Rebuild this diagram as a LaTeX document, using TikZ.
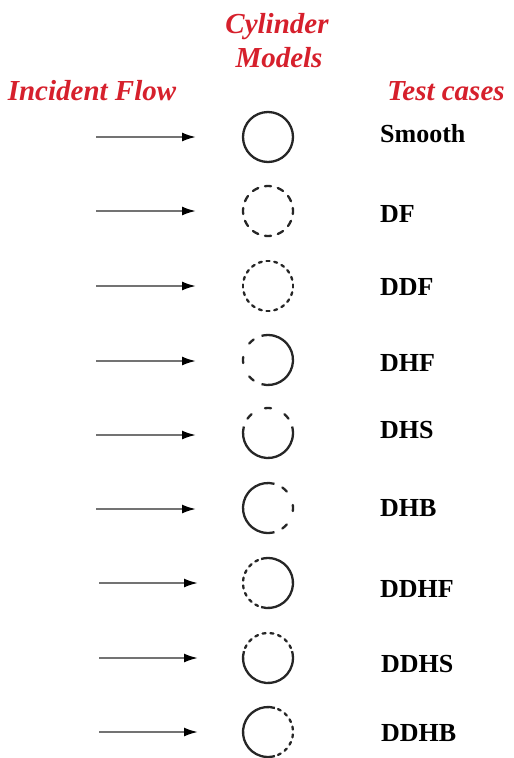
\documentclass[tikz,border=0pt]{standalone}
\usepackage{fontspec}
\setmainfont{Liberation Serif}
\usetikzlibrary{arrows.meta}
\definecolor{headred}{RGB}{214,32,44}
\newcommand\dashring[3]{\foreach \a in {#2}{\draw[rim, line cap=round] (#1.center) ++({\a-#3}:25) arc[start angle=\a-#3, delta angle=2*#3, radius=25];}}
\newcommand\solidarc[3]{\draw[rim] (#1.center) ++(#2:25) arc[start angle=#2, end angle=#3, radius=25];}
\begin{document}
\begin{tikzpicture}[x=1pt,y=1pt,
  head/.style={text=headred, font=\fontsize{29}{32}\selectfont\bfseries\itshape, inner sep=0, anchor=base},
  case/.style={font=\fontsize{26}{28}\selectfont\bfseries, anchor=base west, inner sep=0},
  cyl/.style={circle, minimum size=50pt, inner sep=0, outer sep=0},
  rim/.style={line width=2.3pt, draw=black!85},
  flow/.style={line width=2pt, draw=black!55, -{Latex[length=14pt,width=9pt,color=black]}}
]
\useasboundingbox (0,0) rectangle (514,-758);
% headings
\node[head] (hcyl) at (277,-33) {Cylinder};
\node[head] (hmod) at (279,-67) {Models};
\node[head] (hinc) at (92,-100) {Incident Flow};
\node[head] (htest) at (446,-100) {Test cases};
% cylinders
\node[cyl] (c1) at (268,-137) {};
\node[cyl] (c2) at (268,-211) {};
\node[cyl] (c3) at (268,-286) {};
\node[cyl] (c4) at (268,-360) {};
\node[cyl] (c5) at (268,-433) {};
\node[cyl] (c6) at (268,-508) {};
\node[cyl] (c7) at (268,-583) {};
\node[cyl] (c8) at (268,-658) {};
\node[cyl] (c9) at (268,-732) {};
\draw[rim] (c1.center) circle[radius=25];
\dashring{c2}{90,120,...,420}{7}
\dashring{c3}{90,108,...,432}{3.5}
\solidarc{c4}{-105}{105}\dashring{c4}{132,180,228}{7}
\solidarc{c5}{165}{375}\dashring{c5}{42,90,138}{7}
\solidarc{c6}{75}{285}\dashring{c6}{-48,0,48}{7}
\solidarc{c7}{-106}{106}\dashring{c7}{117,135,...,243}{3.5}
\solidarc{c8}{164}{376}\dashring{c8}{27,45,...,153}{3.5}
\solidarc{c9}{74}{286}\dashring{c9}{-63,-45,...,63}{3.5}
% labels
\node[case] (l1) at (380,-142) {Smooth};
\node[case] (l2) at (380,-222.6) {DF};
\node[case] (l3) at (380,-295) {DDF};
\node[case] (l4) at (380,-371) {DHF};
\node[case] (l5) at (380,-438.6) {DHS};
\node[case] (l6) at (380,-516.6) {DHB};
\node[case] (l7) at (380,-597.6) {DDHF};
\node[case] (l8) at (381,-672.6) {DDHS};
\node[case] (l9) at (381,-741) {DDHB};
% arrows
\coordinate (s1) at (96,-137);   \coordinate (e1) at (196,-137);
\coordinate (s2) at (96,-211);   \coordinate (e2) at (196,-211);
\coordinate (s3) at (96,-286);   \coordinate (e3) at (196,-286);
\coordinate (s4) at (96,-361);   \coordinate (e4) at (196,-361);
\coordinate (s5) at (96,-435);   \coordinate (e5) at (196,-435);
\coordinate (s6) at (96,-509);   \coordinate (e6) at (196,-509);
\coordinate (s7) at (99,-583);   \coordinate (e7) at (198,-583);
\coordinate (s8) at (99,-658);   \coordinate (e8) at (198,-658);
\coordinate (s9) at (99,-732);   \coordinate (e9) at (198,-732);
\foreach \i in {1,...,9}{\draw[flow] (s\i) -- (e\i);}
\end{tikzpicture}
\end{document}
